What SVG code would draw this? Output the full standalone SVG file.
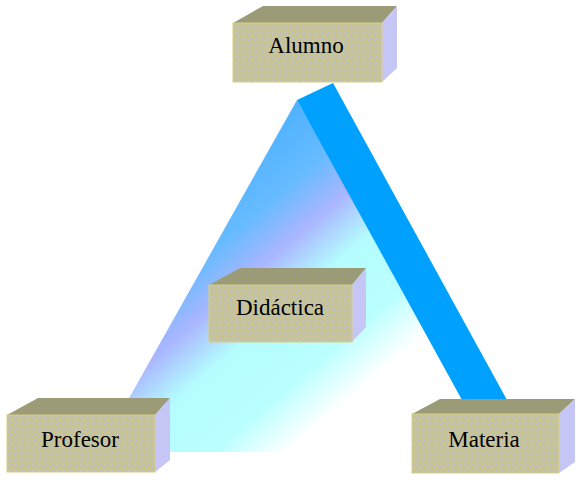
<svg xmlns="http://www.w3.org/2000/svg" width="583" height="480" viewBox="0 0 583 480">
<defs>
<pattern id="chk" width="6" height="6" patternUnits="userSpaceOnUse">
<rect width="6" height="6" fill="#C9C58E"/>
<path d="M3 0.2 L5.8 3 L3 5.8 L0.2 3Z" fill="#BDBCC8"/>
<path d="M3 1.6 L4.4 3 L3 4.4 L1.6 3Z" fill="#CEC986"/>
</pattern>
<linearGradient id="beam" gradientUnits="userSpaceOnUse" x1="296" y1="100" x2="473" y2="307">
<stop offset="0" stop-color="#4FB2FF"/>
<stop offset="0.22" stop-color="#66BBFF"/>
<stop offset="0.38" stop-color="#AAB6FF"/>
<stop offset="0.55" stop-color="#B4FCFF"/>
<stop offset="0.78" stop-color="#BAFFFF"/>
<stop offset="0.96" stop-color="#FFFFFF"/>
</linearGradient>
<style>
.front{fill:url(#chk);stroke:#D6CF86;stroke-width:1}
.top{fill:#9C9B78}
.side{fill:#C6C6F6}
.lbl{font-family:"Liberation Serif","Times New Roman",serif;font-size:23px;fill:#000;text-anchor:middle}
</style>
</defs>
<rect width="583" height="480" fill="#FFFFFF"/>
<g id="connectors">
<polygon points="297,100 480,420 480,452 160,452 128,400" fill="url(#beam)"/>
<polygon points="297,100 333,83 507,400 462,400" fill="#00A0FF"/>
</g>
<g id="alumno">
<polygon class="top" points="233,23 263,6 397,6 382,23"/>
<polygon class="side" points="382,23 397,6 397,68 382,82"/>
<rect class="front" x="233" y="23" width="149" height="59"/>
<text class="lbl" x="306" y="53">Alumno</text>
</g>
<g id="didactica">
<polygon class="top" points="209,285 240,268 366,268 352,285"/>
<polygon class="side" points="352,285 366,268 366,327 352,342"/>
<rect class="front" x="209" y="285" width="143" height="57"/>
<text class="lbl" x="280" y="315">Didáctica</text>
</g>
<g id="profesor">
<polygon class="top" points="7,415 38,398 170,398 155,415"/>
<polygon class="side" points="155,415 170,398 170,460 155,472"/>
<rect class="front" x="7" y="415" width="148" height="57"/>
<text class="lbl" x="80" y="447">Profesor</text>
</g>
<g id="materia">
<polygon class="top" points="412,414 440,399 575,399 559,414"/>
<polygon class="side" points="559,414 575,399 575,462 559,473"/>
<rect class="front" x="412" y="414" width="147" height="59"/>
<text class="lbl" x="484" y="447">Materia</text>
</g>
</svg>
